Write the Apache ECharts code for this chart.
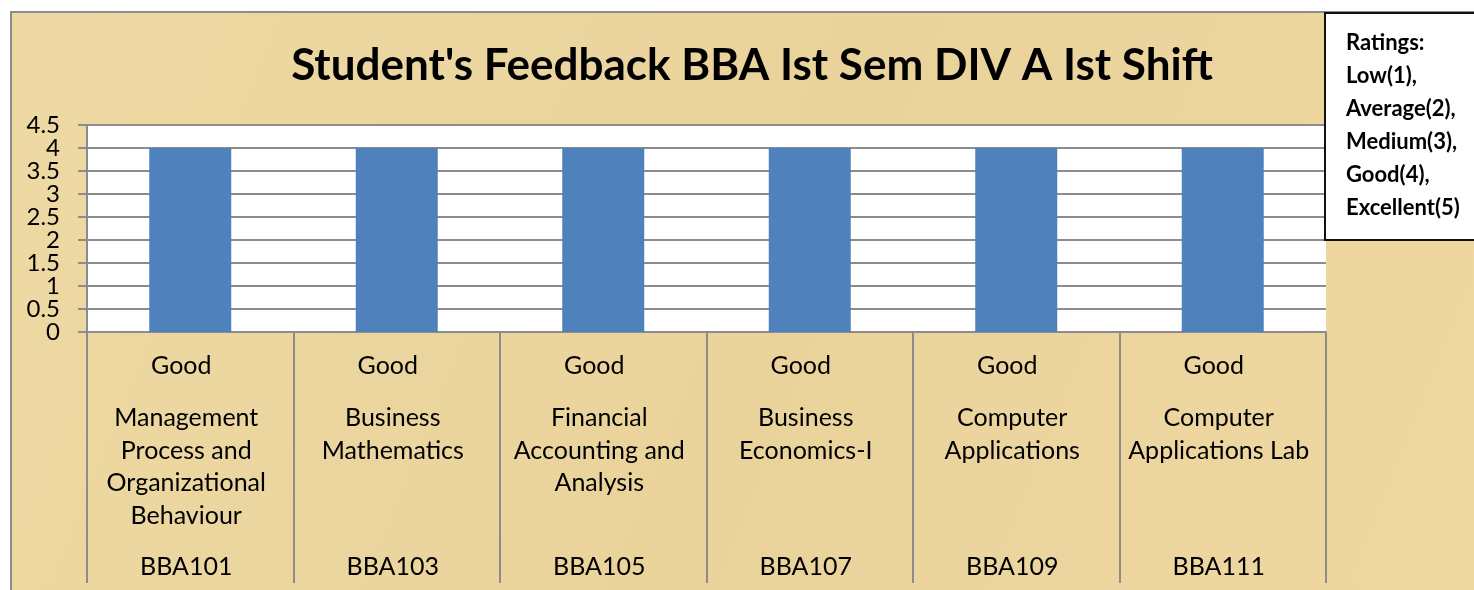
<!DOCTYPE html>
<html>
<head>
<meta charset="utf-8">
<script src="https://cdn.jsdelivr.net/npm/echarts@6/dist/echarts.min.js"></script>
<style>
  html, body { margin: 0; padding: 0; background: #fff; }
  #chart { width: 1474px; height: 590px; }
</style>
</head>
<body>
<div id="chart"></div>
<script>
// data
var codes = ['BBA101', 'BBA103', 'BBA105', 'BBA107', 'BBA109', 'BBA111'];
var subjects = [
    'Management\nProcess and\nOrganizational\nBehaviour',
    'Business\nMathematics',
    'Financial\nAccounting and\nAnalysis',
    'Business\nEconomics-I',
    'Computer\nApplications',
    'Computer\nApplications Lab'
];
var ratings = ['Good', 'Good', 'Good', 'Good', 'Good', 'Good'];
var scores = [4, 4, 4, 4, 4, 4];
var ratingNotes = ['Ratings:', 'Low(1),', 'Average(2),', 'Medium(3),', 'Good(4),', 'Excellent(5)'];

var FONT = 'Lato, "Open Sans", sans-serif';
var GRAY = '#8c8c8c';

var chart = echarts.init(document.getElementById('chart'));

// extra x axes only carry label rows under the main one
var labelAxis = function (data, margin, lh) {
    return {
        type: 'category',
        position: 'bottom',
        data: data,
        axisLine: { show: false },
        axisTick: { show: false },
        splitLine: { show: false },
        axisLabel: {
            interval: 0,
            margin: margin,
            fontFamily: FONT,
            fontSize: 25,
            lineHeight: lh,
            padding: [0, 8, 0, 0],
            color: '#000',
            align: 'center'
        }
    };
};

// y labels are packed tight, so whole and half values go on two stacked axes
var yLabelAxis = function (whole, withLines) {
    return {
        type: 'value',
        position: 'left',
        min: 0,
        max: 4.5,
        interval: 0.5,
        axisLine: { show: withLines, lineStyle: { color: GRAY, width: 2 } },
        axisTick: { show: withLines, length: 9, lineStyle: { color: GRAY, width: 2 } },
        splitLine: { show: withLines, lineStyle: { color: GRAY, width: 2 } },
        axisLabel: {
            margin: 27,
            hideOverlap: false,
            showMinLabel: true,
            showMaxLabel: true,
            fontFamily: FONT,
            fontSize: 24,
            lineHeight: 20,
            color: '#000',
            formatter: function (v) {
                var isWhole = Math.abs(v - Math.round(v)) < 1e-6;
                return isWhole === whole ? String(v) : '';
            }
        }
    };
};

var option = {
    backgroundColor: '#fff',
    animation: false,
    title: [
        {
            text: "Student's Feedback BBA Ist Sem DIV A Ist Shift",
            left: 747,
            textAlign: 'center',
            top: 39,
            textStyle: { fontFamily: FONT, fontWeight: 'bold', fontSize: 44, color: '#000' }
        },
        {
            text: ratingNotes.join('\n'),
            left: 1325,
            top: 13,
            padding: [13, 40, 16, 21],
            backgroundColor: '#fff',
            borderColor: '#111',
            borderWidth: 2,
            textStyle: { fontFamily: FONT, fontWeight: 'bold', fontSize: 22, lineHeight: 33, color: '#000' }
        }
    ],
    graphic: [
        {
            type: 'rect',
            z: -10,
            shape: { x: 11, y: 12, width: 1500, height: 600 },
            style: {
                fill: {
                    type: 'linear', x: 0, y: 0, x2: 1, y2: 1,
                    colorStops: [
                        { offset: 0, color: '#eed9a4' },
                        { offset: 0.5, color: '#ead39b' },
                        { offset: 1, color: '#eed7a1' }
                    ]
                },
                stroke: GRAY,
                lineWidth: 2
            }
        }
    ],
    grid: {
        left: 87,
        right: 148,
        top: 125,
        bottom: 258,
        show: true,
        backgroundColor: '#fff',
        borderWidth: 0
    },
    xAxis: [
        {
            type: 'category',
            data: ratings,
            axisLine: { show: true, lineStyle: { color: GRAY, width: 2 } },
            axisTick: { show: true, interval: 0, length: 251, lineStyle: { color: GRAY, width: 2 } },
            axisLabel: {
                interval: 0,
                margin: 21,
                fontFamily: FONT,
                fontSize: 25,
                lineHeight: 25,
                padding: [0, 18, 0, 0],
                color: '#000'
            }
        },
        labelAxis(subjects, 70, 32.5),
        labelAxis(codes, 222, 25)
    ],
    yAxis: [
        yLabelAxis(true, true),
        yLabelAxis(false, false)
    ],
    series: [
        {
            name: 'Rating',
            type: 'bar',
            xAxisIndex: 0,
            yAxisIndex: 0,
            data: scores,
            barWidth: 82,
            itemStyle: { color: '#4f81bd' }
        }
    ]
};

chart.setOption(option);
</script>
</body>
</html>
